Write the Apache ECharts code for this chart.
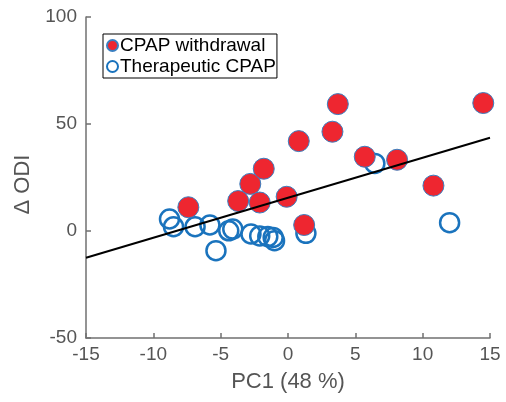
<!DOCTYPE html>
<html>
<head>
<meta charset="utf-8">
<script src="https://cdn.jsdelivr.net/npm/echarts@6/dist/echarts.min.js"></script>
<style>html,body{margin:0;padding:0;background:#fff;}#c{width:506px;height:402px;}</style>
</head>
<body>
<div id="c"></div>
<script>
const withdrawalX = [-7.4, -3.7, -2.8, -2.1, -1.8, -0.1, 0.8, 1.2, 3.3, 3.7, 5.7, 8.1, 10.8, 14.5];
const withdrawalY = [11.1, 14.0, 22.0, 13.3, 29.1, 16.0, 42.0, 2.8, 46.4, 59.3, 34.7, 33.3, 21.2, 59.8];
const therapeuticX = [-8.8, -8.5, -6.9, -5.8, -5.35, -4.4, -4.1, -2.75, -2.1, -1.5, -1.1, -1.0, 1.33, 6.45, 12.0];
const therapeuticY = [5.6, 2.0, 2.0, 2.8, -9.2, 0.1, 0.9, -1.4, -2.3, -2.6, -3.0, -4.5, -1.1, 31.6, 3.9];
const fitX = [-15, 15];
const fitY = [-12.5, 43.6];
const xTicks = [-15, -10, -5, 0, 5, 10, 15];
const yTicks = [-50, 0, 50, 100];

const zip = (a, b) => a.map((v, i) => [v, b[i]]);
const font = 'Liberation Sans, Arial, sans-serif';
const axisGray = '#707070';
const labelGray = '#555555';

const chart = echarts.init(document.getElementById('c'), null, {renderer: 'canvas'});
chart.setOption({
  animation: false,
  backgroundColor: '#fff',
  grid: {left: 86, right: 16, top: 17, bottom: 64, containLabel: false},
  legend: {
    left: 103, top: 34,
    orient: 'vertical',
    backgroundColor: '#fff',
    borderColor: '#000',
    borderWidth: 1,
    padding: [2, 1, 2, 3],
    itemGap: 2,
    itemWidth: 11,
    itemHeight: 11,
    textStyle: {fontFamily: font, fontSize: 19, color: '#000', padding: [0, 0, 0, -3]},
    data: [
      {name: 'CPAP withdrawal', icon: 'circle'},
      {name: 'Therapeutic CPAP', icon: 'circle'}
    ]
  },
  xAxis: {
    type: 'value', min: xTicks[0], max: xTicks[xTicks.length - 1], interval: 5,
    name: 'PC1 (48 %)', nameLocation: 'middle', nameGap: 33,
    nameTextStyle: {fontFamily: font, fontSize: 22, color: labelGray},
    axisLine: {onZero: false, lineStyle: {color: axisGray, width: 1.5}},
    axisTick: {inside: true, length: 5, lineStyle: {color: axisGray, width: 1.5}},
    axisLabel: {fontFamily: font, fontSize: 19, color: labelGray, margin: 7},
    splitLine: {show: false}
  },
  yAxis: {
    type: 'value', min: yTicks[0], max: yTicks[yTicks.length - 1], interval: 50,
    name: 'Δ ODI', nameLocation: 'middle', nameGap: 52, nameRotate: 90,
    nameTextStyle: {fontFamily: font, fontSize: 22, color: labelGray, padding: [0, 14, 0, 0]},
    axisLine: {onZero: false, lineStyle: {color: axisGray, width: 1.5}},
    axisTick: {inside: true, length: 5, lineStyle: {color: axisGray, width: 1.5}},
    axisLabel: {fontFamily: font, fontSize: 19, color: labelGray, margin: 9},
    splitLine: {show: false}
  },
  series: [
    {
      name: 'CPAP withdrawal', type: 'scatter', z: 3,
      data: zip(withdrawalX, withdrawalY),
      symbol: 'circle', symbolSize: 21,
      itemStyle: {color: '#ee2630', borderColor: '#3a7fc0', borderWidth: 1, opacity: 1}
    },
    {
      name: 'Therapeutic CPAP', type: 'scatter', z: 2,
      data: zip(therapeuticX, therapeuticY),
      symbol: 'circle', symbolSize: 19,
      itemStyle: {color: 'rgba(255,255,255,0)', borderColor: '#1a73bd', borderWidth: 2.5, opacity: 1}
    },
    {
      name: 'fit', type: 'line', z: 4,
      data: zip(fitX, fitY),
      showSymbol: false, symbol: 'none',
      lineStyle: {color: '#000', width: 2},
      silent: true
    }
  ]
});
</script>
</body>
</html>
